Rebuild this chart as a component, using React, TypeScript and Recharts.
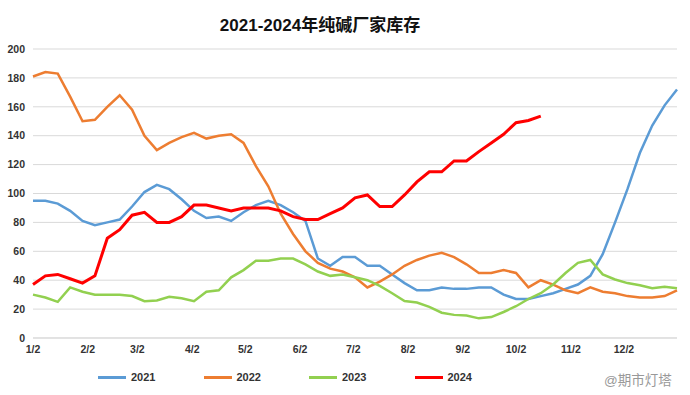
import { LineChart, Line, XAxis, YAxis, CartesianGrid, Legend } from "recharts";

// weekly inventory, 10k tonnes, 53 weeks per year (2024 to mid October)
const y2021 = [
  95, 95, 93, 88, 81, 78, 80, 82, 91, 101, 106, 103, 96, 88, 83, 84, 81, 87, 92, 95,
  92, 87, 81, 55, 50, 56, 56, 50, 50, 44, 38, 33, 33, 35, 34, 34, 35, 35, 30, 27,
  27, 29, 31, 34, 37, 43, 58, 80, 103, 128, 147, 161, 172,
];
const y2022 = [
  181, 184, 183, 167, 150, 151, 160, 168, 158, 140, 130, 135, 139, 142, 138, 140, 141, 135, 119, 105,
  86, 72, 60, 52, 48, 46, 42, 35, 39, 44, 50, 54, 57, 59, 56, 51, 45, 45, 47, 45,
  35, 40, 37, 33, 31, 35, 32, 31, 29, 28, 28, 29, 33,
];
const y2023 = [
  30, 28, 25, 35, 32, 30, 30, 30, 29, 25.5, 26, 28.5, 27.5, 25.5, 32, 33, 42, 47, 53.5, 53.5,
  55, 55, 51, 46, 43, 44, 42, 40, 36, 31, 25.6, 24.5, 21.5, 17.5, 16, 15.5, 13.6, 14.5, 18, 22,
  27, 31, 37, 45, 52, 54, 44, 40.5, 38, 36.5, 34.4, 35.5, 34.4,
];
const y2024 = [
  37, 43, 44, 41, 38, 43, 69, 75, 85, 87, 80, 80, 84, 92, 92, 90, 88, 90, 90, 90,
  88, 84, 82, 82, 86, 90, 97, 99, 91, 91, 99, 108, 115, 115, 122.5, 122.5, 129, 135, 141, 149,
  150.5, 153.5,
];

// day of year for each "month/2" tick
const tickDays = [0, 31, 59, 90, 120, 151, 181, 212, 243, 273, 304, 334];
const tickLabels = ["1/2", "2/2", "3/2", "4/2", "5/2", "6/2", "7/2", "8/2", "9/2", "10/2", "11/2", "12/2"];
const yTicks = [0, 20, 40, 60, 80, 100, 120, 140, 160, 180, 200];

const series = [
  { key: "y2021", name: "2021", color: "#5b9bd5", width: 2.5 },
  { key: "y2022", name: "2022", color: "#ed7d31", width: 2.5 },
  { key: "y2023", name: "2023", color: "#92d050", width: 2.5 },
  { key: "y2024", name: "2024", color: "#ff0000", width: 3 },
];

const data = y2021.map((v, i) => ({
  day: i * 7,
  y2021: v,
  y2022: y2022[i],
  y2023: y2023[i],
  y2024: y2024[i],
}));

const font = '"Liberation Sans", Arial, "Noto Sans CJK SC", sans-serif';

const LegendContent = () => (
  <div style={{ display: "flex", fontFamily: font }}>
    {series.map((s) => (
      <div key={s.key} style={{ width: 105.5, display: "flex", alignItems: "center" }}>
        <div style={{ width: 28, height: 3, background: s.color, marginRight: 5 }} />
        <span style={{ fontSize: 11, fontWeight: "bold", color: "#333" }}>{s.name}</span>
      </div>
    ))}
  </div>
);

export default function App() {
  return (
    <div style={{ position: "absolute", left: 0, top: 0, width: 690, height: 395, background: "#fff", fontFamily: font }}>
      <div
        style={{
          position: "absolute",
          top: 11,
          left: 170,
          width: 300,
          textAlign: "center",
          fontSize: 17,
          fontWeight: "bold",
          color: "#111",
          whiteSpace: "nowrap",
        }}
      >
        2021-2024年纯碱厂家库存
      </div>
      <LineChart width={690} height={395} data={data} margin={{ top: 49, right: 13, bottom: 37, left: 0 }}>
        <CartesianGrid vertical={false} stroke="#d9d9d9" />
        <XAxis
          type="number"
          dataKey="day"
          domain={[0, 364]}
          ticks={tickDays}
          tickFormatter={(d) => tickLabels[tickDays.indexOf(d)]}
          interval={0}
          height={20}
          axisLine={{ stroke: "#d9d9d9" }}
          tickLine={false}
          tick={{ fontSize: 10.5, fontWeight: "bold", fill: "#333", fontFamily: font }}
        />
        <YAxis
          domain={[0, 200]}
          ticks={yTicks}
          width={33}
          axisLine={false}
          tickLine={false}
          tick={{ fontSize: 10.5, fontWeight: "bold", fill: "#333", fontFamily: font }}
        />
        <Legend
          layout="horizontal"
          verticalAlign="middle"
          align="center"
          wrapperStyle={{ top: 371, left: 98, width: 430 }}
          content={<LegendContent />}
        />
        {series.map((s) => (
          <Line
            key={s.key}
            type="linear"
            dataKey={s.key}
            name={s.name}
            stroke={s.color}
            strokeWidth={s.width}
            dot={false}
            activeDot={false}
            isAnimationActive={false}
          />
        ))}
      </LineChart>
      <div style={{ position: "absolute", top: 369, left: 604, fontSize: 13.5, color: "#999", whiteSpace: "nowrap" }}>
        @期市灯塔
      </div>
    </div>
  );
}
